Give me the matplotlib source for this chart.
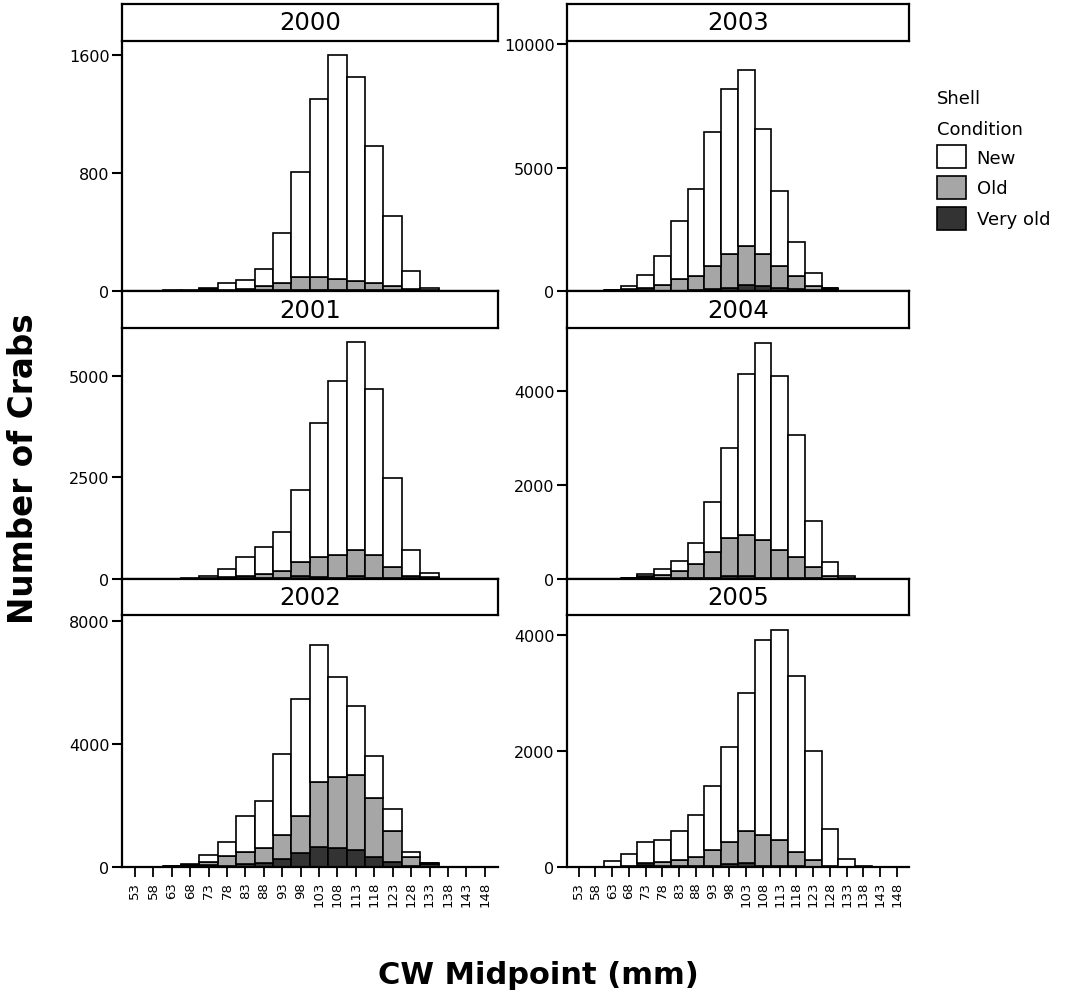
import matplotlib
matplotlib.use("Agg")
import matplotlib.pyplot as plt
from matplotlib.patches import Patch
import numpy as np

# ---------------- data ----------------
cw_midpoints = [53, 58, 63, 68, 73, 78, 83, 88, 93, 98, 103, 108, 113, 118, 123, 128, 133, 138, 143, 148]
tick_labels = [str(v) for v in cw_midpoints]
series_names = ["New", "Old", "Very old"]

new_2000 = [0, 0, 2, 2, 7, 47, 65, 115, 335, 717, 1207, 1520, 1382, 928, 474, 122, 17, 0, 0, 0]
old_2000 = [0, 0, 1, 1, 5, 5, 7, 27, 47, 83, 83, 70, 60, 49, 28, 8, 3, 0, 0, 0]
vold_2000 = [0, 0, 2, 2, 10, 5, 5, 8, 8, 10, 10, 10, 8, 8, 8, 5, 2, 0, 0, 0]

new_2001 = [0, 0, 0, 23, 52, 186, 470, 672, 968, 1780, 3280, 4298, 5107, 4088, 2188, 631, 115, 0, 0, 0]
old_2001 = [0, 0, 0, 5, 15, 35, 60, 103, 164, 328, 500, 549, 631, 549, 254, 62, 30, 0, 0, 0]
vold_2001 = [0, 0, 0, 5, 15, 25, 20, 20, 33, 82, 50, 33, 82, 33, 33, 20, 10, 0, 0, 0]

new_2002 = [0, 0, 10, 20, 230, 450, 1180, 1535, 2620, 3793, 4438, 3235, 2253, 1385, 715, 162, 10, 0, 0, 0]
old_2002 = [0, 0, 5, 20, 110, 330, 393, 490, 790, 1222, 2112, 2318, 2438, 1896, 997, 293, 10, 0, 0, 0]
vold_2002 = [0, 0, 15, 50, 60, 40, 97, 130, 260, 445, 660, 617, 552, 336, 173, 43, 110, 0, 0, 0]

new_2003 = [0, 0, 10, 110, 525, 1173, 2350, 3520, 5400, 6690, 7100, 5080, 3040, 1370, 524, 15, 0, 0, 0, 0]
old_2003 = [0, 0, 10, 50, 105, 237, 450, 570, 960, 1365, 1583, 1284, 895, 540, 176, 20, 0, 0, 0, 0]
vold_2003 = [0, 0, 30, 30, 30, 20, 20, 40, 70, 135, 257, 216, 135, 80, 40, 100, 0, 0, 0, 0]

new_2004 = [0, 0, 0, 8, 49, 120, 213, 439, 1070, 1919, 3419, 4185, 3703, 2577, 991, 283, 51, 0, 0, 0]
old_2004 = [0, 0, 0, 5, 17, 64, 157, 291, 553, 800, 864, 807, 596, 459, 233, 61, 15, 0, 0, 0]
vold_2004 = [0, 0, 0, 15, 40, 28, 20, 28, 20, 71, 71, 28, 20, 15, 15, 10, 5, 0, 0, 0]

new_2005 = [0, 0, 110, 215, 375, 375, 496, 709, 1095, 1631, 2363, 3355, 3614, 3020, 1885, 631, 133, 15, 0, 0]
old_2005 = [0, 0, 0, 10, 28, 72, 101, 159, 274, 380, 565, 539, 453, 255, 116, 10, 2, 2, 0, 0]
vold_2005 = [0, 0, 0, 5, 35, 20, 20, 20, 20, 58, 63, 20, 20, 10, 5, 5, 3, 3, 0, 0]

years = ["2000", "2001", "2002", "2003", "2004", "2005"]
y_ticks = {
    "2000": [0, 800, 1600],
    "2001": [0, 2500, 5000],
    "2002": [0, 4000, 8000],
    "2003": [0, 5000, 10000],
    "2004": [0, 2000, 4000],
    "2005": [0, 2000, 4000],
}
y_max = {"2000": 1695, "2001": 6172, "2002": 8183, "2003": 10135, "2004": 5331, "2005": 4341}

data = {
    "2000": (new_2000, old_2000, vold_2000),
    "2001": (new_2001, old_2001, vold_2001),
    "2002": (new_2002, old_2002, vold_2002),
    "2003": (new_2003, old_2003, vold_2003),
    "2004": (new_2004, old_2004, vold_2004),
    "2005": (new_2005, old_2005, vold_2005),
}

colors = {"New": "#ffffff", "Old": "#a6a6a6", "Very old": "#333333"}

# ---------------- layout ----------------
W, H = 1075, 995
fig = plt.figure(figsize=(W / 100, H / 100), dpi=100)
plt.rcParams["font.family"] = ["DejaVu Sans"]

cols = [(122, 498), (567, 909)]
rows = [(5, 42, 292), (292, 329, 580), (580, 616, 868)]  # strip top, strip bottom/axes top, axes bottom
layout = {
    "2000": (0, 0), "2001": (0, 1), "2002": (0, 2),
    "2003": (1, 0), "2004": (1, 1), "2005": (1, 2),
}

x = np.arange(len(cw_midpoints))

for yr in years:
    c, r = layout[yr]
    x0, x1 = cols[c]
    st, sb, ab = rows[r]
    ax = fig.add_axes([x0 / W, 1 - ab / H, (x1 - x0) / W, (ab - sb) / H])
    sax = fig.add_axes([x0 / W, 1 - sb / H, (x1 - x0) / W, (sb - st) / H])

    new, old, vold = data[yr]
    new = np.array(new); old = np.array(old); vold = np.array(vold)
    kw = dict(width=1.0, edgecolor="black", linewidth=1.2, zorder=2)
    ax.bar(x, vold, color=colors["Very old"], **kw)
    ax.bar(x, old, bottom=vold, color=colors["Old"], **kw)
    ax.bar(x, new, bottom=vold + old, color=colors["New"], **kw)

    ax.set_xlim(-0.7, 19.72)
    ax.set_ylim(0, y_max[yr])
    ax.set_yticks(y_ticks[yr])
    ax.set_yticklabels([str(t) for t in y_ticks[yr]], fontsize=11.5)
    for s in ["top", "right"]:
        ax.spines[s].set_visible(False)
    ax.spines["left"].set_linewidth(1.6)
    ax.spines["bottom"].set_linewidth(1.6)
    ax.spines["bottom"].set_zorder(3)
    ax.tick_params(axis="y", direction="out", length=7, width=1.5, pad=2)
    if r == 2:
        ax.set_xticks(x)
        ax.set_xticklabels(tick_labels, rotation=90, fontsize=9.5)
        ax.tick_params(axis="x", direction="out", length=7, width=1.3, pad=3)
    else:
        ax.set_xticks([])

    sax.set_xticks([]); sax.set_yticks([])
    for s in sax.spines.values():
        s.set_linewidth(1.6)
    sax.text(0.5, 0.5, yr, ha="center", va="center", fontsize=17.5, transform=sax.transAxes)

# legend
handles = [Patch(facecolor=colors[n], edgecolor="black", linewidth=1.2) for n in series_names]
leg = fig.legend(handles, series_names, loc="upper left", bbox_to_anchor=(937 / W, 1 - 90 / H),
                 frameon=False, title="Shell\nCondition", alignment="left", fontsize=13,
                 title_fontsize=13, handlelength=1.6, handleheight=1.6, handletextpad=0.6,
                 labelspacing=0.42, borderpad=0, borderaxespad=0)
leg.get_title().set_linespacing(1.9)

fig.text(24 / W, 1 - 469 / H, "Number of Crabs", rotation=90, ha="center", va="center",
         fontsize=23.5, fontweight="bold")
fig.text(538 / W, 1 - 976 / H, "CW Midpoint (mm)", ha="center", va="center",
         fontsize=22, fontweight="bold")

fig.savefig("out.png", dpi=100, facecolor="white")
